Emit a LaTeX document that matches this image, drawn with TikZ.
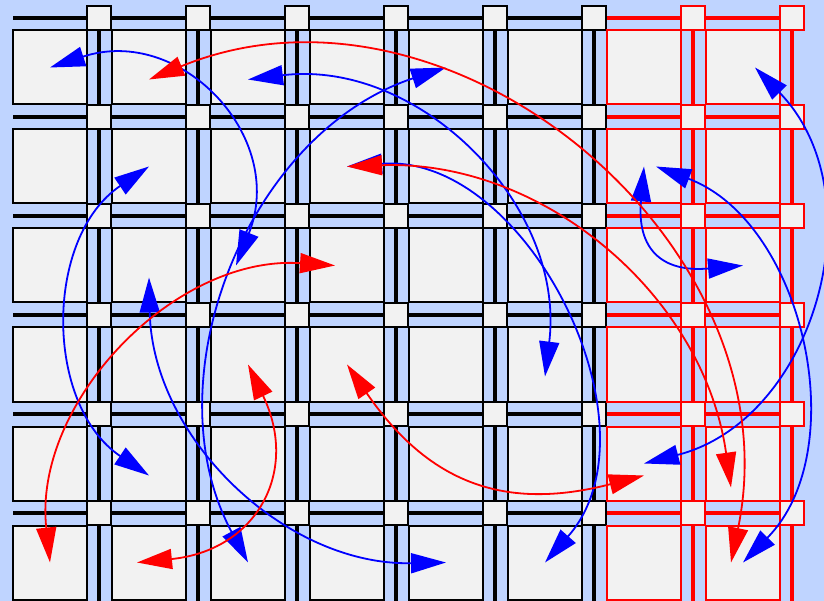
\documentclass[tikz,border=0pt]{standalone}
\usetikzlibrary{arrows.meta,calc}
\definecolor{bgblue}{RGB}{191,212,255}
\definecolor{cellgray}{RGB}{242,242,242}
\tikzset{cell/.style={draw=#1,fill=cellgray,line width=2pt,minimum width=74pt,minimum height=74pt,inner sep=0pt},
  sbox/.style={draw=#1,fill=cellgray,line width=2pt,minimum size=24pt,inner sep=0pt},
  wire/.style={draw=#1,line width=4.5pt},
  mv/.style={{Triangle[length=35pt,width=20pt]}-{Triangle[length=35pt,width=20pt]},line width=1.8pt}}

\begin{document}
\begin{tikzpicture}[x=1pt,y=1pt]
\useasboundingbox (0,0) rectangle (824,-601);
\clip (0,0) rectangle (824,-601);
\fill[bgblue] (0,0) rectangle (824,-601);
% routing wires
\foreach \c/\col in {1/black,2/black,3/black,4/black,5/black,6/black,7/red,8/red}
  \draw[wire=\col] ({99*\c},-18) -- ({99*\c},-610);
\foreach \r in {1,...,6} {
  \draw[wire=black] (13,{-18-99*(\r-1)}) -- (594,{-18-99*(\r-1)});
  \draw[wire=red] (594,{-18-99*(\r-1)}) -- (792,{-18-99*(\r-1)});
}
% logic cells and switch boxes
\foreach \c/\col in {1/black,2/black,3/black,4/black,5/black,6/black,7/red,8/red}
  \foreach \r in {1,...,6} {
    \node[cell=\col] (cell-\c-\r) at ({50+99*(\c-1)},{-67.5-99*(\r-1)}) {};
    \node[sbox=\col] (sb-\c-\r) at ({99*\c},{-18-99*(\r-1)}) {};
  }
% blue moves
\draw[mv,blue] (cell-1-1.center) to[bend left=65,looseness=1.3] ([xshift=-12pt]cell-3-3.center);
\draw[mv,blue] ([yshift=-12pt]cell-3-1.center) to[bend left=52,looseness=1.05] ([yshift=-12pt]cell-6-4.center);
\draw[mv,blue] (cell-2-2.center) to[bend right=56,looseness=1.05] ([yshift=-12pt]cell-2-5.center);
\draw[mv,blue] (cell-4-2.center) to[bend left=68,looseness=1.04] (cell-6-6.center);
\draw[mv,blue] (cell-5-1.center) to[bend right=50] (cell-3-6.center);
\draw[mv,blue] ([yshift=-12pt]cell-2-3.center) to[bend right=45] (cell-5-6.center);
\draw[mv,blue] ([xshift=12pt]cell-8-1.center) to[bend left=60,looseness=1.1] (cell-7-5.center);
\draw[mv,blue] ([xshift=12pt]cell-7-2.center) to[bend left=57] (cell-8-6.center);
\draw[mv,blue] (cell-7-2.center) to[bend right=50,looseness=1.5] (cell-8-3.center);
% red moves
\draw[mv,red] ([yshift=-12pt]cell-2-1.center) to[bend left=62,looseness=1.1] ([xshift=-12pt]cell-8-6.center);
\draw[mv,red] (cell-4-2.center) to[bend left=42] ([shift={(-12pt,-24pt)}]cell-8-5.center);
\draw[mv,red] ([xshift=-12pt]cell-4-3.center) to[bend right=50] (cell-1-6.center);
\draw[mv,red] (cell-3-4.center) to[bend left=55,looseness=1.35] ([xshift=-12pt]cell-2-6.center);
\draw[mv,red] (cell-4-4.center) to[bend right=35,looseness=1.16] ([yshift=-12pt]cell-7-5.center);
\end{tikzpicture}
\end{document}
